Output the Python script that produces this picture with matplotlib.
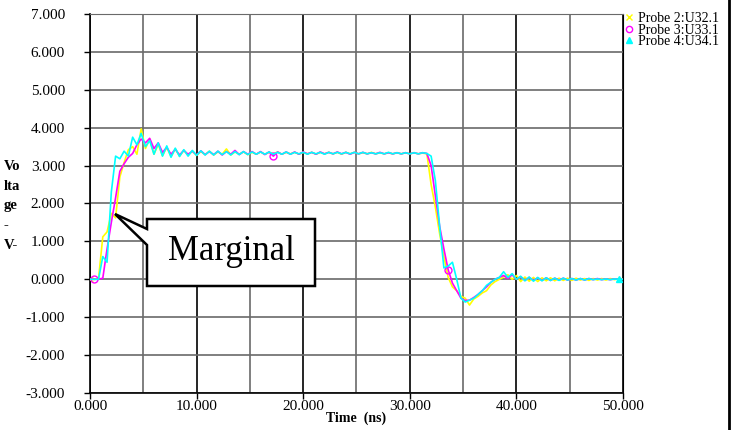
#!/usr/bin/env python3
"""Probe waveforms (Probe 2/3/4) with a 'Marginal' callout."""

import matplotlib

matplotlib.use("Agg")
import matplotlib.pyplot as plt
import numpy as np
from matplotlib.lines import Line2D
from matplotlib.patches import Polygon
from matplotlib.ticker import FormatStrFormatter, MultipleLocator

W, H = 739, 430
SAMPLE_NS = 0.4  # spacing of the values

# values, one every SAMPLE_NS starting at 0 ns
probe2 = [
    0.00, 0.00, 0.02, 1.12, 1.25, 1.74, 1.62, 2.70, 3.08, 3.42,
    3.50, 3.30, 3.97, 3.45, 3.70, 3.30, 3.56, 3.26, 3.48, 3.24,
    3.44, 3.25, 3.40, 3.28, 3.38, 3.27, 3.37, 3.29, 3.38, 3.28,
    3.36, 3.30, 3.44, 3.28, 3.36, 3.30, 3.36, 3.29, 3.35, 3.30,
    3.36, 3.30, 3.35, 3.31, 3.36, 3.30, 3.35, 3.31, 3.35, 3.30,
    3.35, 3.31, 3.35, 3.30, 3.35, 3.31, 3.35, 3.31, 3.35, 3.30,
    3.35, 3.31, 3.35, 3.31, 3.34, 3.31, 3.35, 3.31, 3.34, 3.31,
    3.34, 3.31, 3.34, 3.31, 3.34, 3.31, 3.34, 3.31, 3.33, 3.31,
    2.50, 1.90, 1.20, 0.60, 0.05, -0.20, -0.30, -0.45, -0.50, -0.68,
    -0.52, -0.45, -0.36, -0.30, -0.15, -0.06, 0.00, 0.06, 0.12, 0.00,
    0.10, -0.06, 0.06, -0.05, 0.05, -0.06, 0.04, -0.04, 0.04, -0.04,
    0.03, -0.03, 0.03, -0.03, 0.03, -0.02, 0.02, -0.03, 0.02, -0.02,
    0.02, -0.02, 0.02, -0.01, 0.02, 0.01,
]
probe3 = [
    0.00, 0.00, 0.00, 0.03, 0.80, 1.50, 2.15, 2.85, 3.05, 3.22,
    3.32, 3.55, 3.70, 3.60, 3.72, 3.45, 3.60, 3.35, 3.48, 3.30,
    3.43, 3.28, 3.40, 3.30, 3.38, 3.28, 3.39, 3.29, 3.37, 3.29,
    3.38, 3.28, 3.37, 3.30, 3.40, 3.29, 3.37, 3.30, 3.37, 3.30,
    3.37, 3.29, 3.36, 3.25, 3.36, 3.30, 3.36, 3.30, 3.36, 3.30,
    3.36, 3.31, 3.35, 3.30, 3.36, 3.31, 3.35, 3.31, 3.36, 3.31,
    3.35, 3.30, 3.35, 3.31, 3.35, 3.31, 3.34, 3.31, 3.35, 3.31,
    3.34, 3.31, 3.34, 3.31, 3.34, 3.31, 3.34, 3.31, 3.34, 3.32,
    3.00, 2.20, 1.40, 0.80, 0.25, -0.10, -0.30, -0.50, -0.56, -0.55,
    -0.48, -0.40, -0.30, -0.20, -0.08, 0.00, 0.05, 0.10, 0.02, 0.12,
    0.00, 0.07, -0.03, 0.05, -0.03, 0.04, -0.03, 0.04, -0.03, 0.03,
    -0.02, 0.03, -0.02, 0.02, -0.02, 0.02, -0.02, 0.02, -0.01, 0.02,
    -0.01, 0.01, -0.01, 0.01, 0.00, 0.00,
]
probe4 = [
    0.00, 0.00, 0.00, 0.60, 0.45, 2.30, 3.25, 3.18, 3.38, 3.25,
    3.75, 3.55, 3.85, 3.50, 3.66, 3.30, 3.60, 3.25, 3.52, 3.22,
    3.46, 3.24, 3.42, 3.25, 3.40, 3.27, 3.39, 3.28, 3.38, 3.28,
    3.38, 3.29, 3.37, 3.28, 3.37, 3.29, 3.37, 3.29, 3.36, 3.30,
    3.36, 3.30, 3.36, 3.30, 3.35, 3.30, 3.36, 3.30, 3.35, 3.31,
    3.35, 3.30, 3.35, 3.31, 3.35, 3.30, 3.35, 3.31, 3.35, 3.31,
    3.35, 3.31, 3.35, 3.31, 3.35, 3.31, 3.34, 3.31, 3.34, 3.31,
    3.35, 3.31, 3.34, 3.31, 3.34, 3.31, 3.34, 3.31, 3.34, 3.32,
    3.25, 2.60, 1.40, 0.30, 0.35, 0.45, 0.00, -0.50, -0.60, -0.55,
    -0.50, -0.40, -0.30, -0.16, -0.08, 0.00, 0.05, 0.20, 0.05, 0.15,
    0.00, 0.08, -0.04, 0.06, -0.05, 0.05, -0.04, 0.04, -0.03, 0.03,
    -0.03, 0.03, -0.02, 0.02, -0.02, 0.02, -0.02, 0.02, -0.01, 0.01,
    -0.01, 0.01, -0.01, 0.01, 0.00, 0.00,
]

SERIES = [
    ("Probe 2:U32.1", probe2, "#ffff00", "x", [0]),
    ("Probe 3:U33.1", probe3, "#ff00ff", "o", [1, 43, 84]),
    ("Probe 4:U34.1", probe4, "#00ffff", "^", [124]),
]

X_TICKS = [0, 10, 20, 30, 40, 50]
Y_MIN, Y_MAX = -3.0, 7.0


def px(x, y):
    """Pixel position (top-left origin) -> figure fraction."""
    return x / W, 1 - y / H


def main() -> None:
    plt.rcParams["font.family"] = ["Liberation Serif", "DejaVu Serif"]
    fig = plt.figure(figsize=(W / 100, H / 100), dpi=100)
    left, top = px(90, 14)
    right, bottom = px(623, 393)
    ax = fig.add_axes([left, bottom, right - left, top - bottom])

    for label, vals, color, marker, marks in SERIES:
        t = np.arange(len(vals)) * SAMPLE_NS
        ax.plot(t, vals, color=color, lw=1.2, marker=marker, markevery=marks,
                ms=5, mfc="none" if marker == "o" else color, mew=1.0,
                label=label, zorder=3)

    ax.set_xlim(X_TICKS[0], X_TICKS[-1])
    ax.set_ylim(Y_MIN, Y_MAX)
    ax.xaxis.set_major_locator(MultipleLocator(10))
    ax.xaxis.set_minor_locator(MultipleLocator(5))
    ax.yaxis.set_major_locator(MultipleLocator(1))
    ax.xaxis.set_major_formatter(FormatStrFormatter("%.3f"))
    ax.yaxis.set_major_formatter(FormatStrFormatter("%.3f"))
    ax.grid(True, which="major", axis="x", color="#000000", lw=1.2)
    ax.grid(True, which="minor", axis="x", color="#6a6a6a", lw=1.2)
    ax.grid(True, which="major", axis="y", color="#6a6a6a", lw=1.2)
    ax.set_axisbelow(True)
    ax.tick_params(axis="x", which="major", length=4, width=1, pad=1, labelsize=11)
    ax.tick_params(axis="x", which="minor", length=0)
    ax.tick_params(axis="y", length=4, width=1, pad=14, labelsize=11)
    for side in ("left", "bottom"):
        ax.spines[side].set_color("black")
        ax.spines[side].set_linewidth(1.2)
    ax.spines["top"].set_color("#6a6a6a")
    ax.spines["right"].set_color("black")

    ax.set_xlabel("Time  (ns)", fontsize=10, fontweight="bold", labelpad=-1)
    fig.text(4 / W, 1 - 206 / H, "Vo\nlta\nge\n-\nV-", fontsize=10.5,
             fontweight="bold", ha="left", va="center", linespacing=1.68)

    # legend outside the plot, top right
    handles = [
        Line2D([], [], ls="none", marker=m, color=c, ms=4.5, mew=1.0,
               mfc="none" if m == "o" else c)
        for _, _, c, m, _ in SERIES
    ]
    fig.legend(handles, [s[0] for s in SERIES], loc="upper left",
               bbox_to_anchor=px(624, 12), frameon=False, fontsize=10,
               handlelength=0.7, handletextpad=0.3, labelspacing=-0.1,
               borderpad=0, borderaxespad=0)

    # "Marginal" callout box with pointer
    outline = [(147, 219), (315, 219), (315, 286), (147, 286),
               (147, 245), (115, 214), (147, 229)]
    fig.add_artist(Polygon([px(x, y) for x, y in outline], closed=True,
                           transform=fig.transFigure, facecolor="white",
                           edgecolor="black", lw=1.8, zorder=5))
    fig.text(*px(231, 251), "Marginal", fontsize=25, ha="center",
             va="center", zorder=6)

    # frame line on the right edge of the picture
    fig.add_artist(Line2D([729 / W, 729 / W], [0, 1], transform=fig.transFigure,
                          color="black", lw=2))

    fig.savefig("out.png", dpi=100)
    plt.close(fig)


if __name__ == "__main__":
    main()
